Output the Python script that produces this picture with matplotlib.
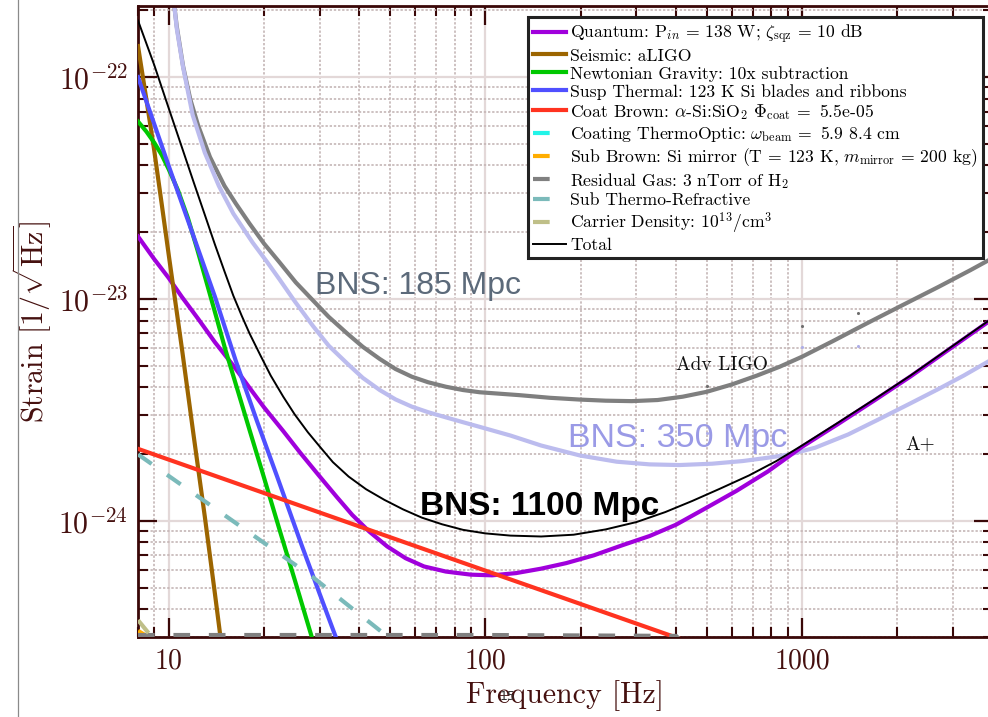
import numpy as np
import matplotlib
matplotlib.use("Agg")
import matplotlib.pyplot as plt
from matplotlib.ticker import FuncFormatter, FixedLocator, LogLocator, NullFormatter
from matplotlib.lines import Line2D

# ---------------- noise budget data: frequency [Hz], log10 strain [1/sqrt(Hz)] ----------------
quantum_f = [8, 9, 10, 11, 12.4, 14, 16, 18, 20, 23, 26, 30, 34, 38, 43, 49, 56, 64, 75, 90,
             105, 125, 150, 180, 220, 270, 330, 400, 500, 620, 780, 1000, 1300, 1700, 2200,
             3000, 4000]
quantum_lg = [-22.718, -22.82, -22.905, -22.99, -23.09, -23.195, -23.30, -23.40, -23.488,
              -23.595, -23.692, -23.80, -23.893, -23.973, -24.048, -24.115, -24.168, -24.205,
              -24.228, -24.242, -24.245, -24.235, -24.215, -24.19, -24.155, -24.11, -24.068,
              -24.017, -23.94, -23.865, -23.777, -23.666, -23.563, -23.455, -23.349, -23.214,
              -23.089]

seismic_f = [8, 8.5, 9, 9.5, 10, 11, 12, 13, 14, 14.5, 15.5]
seismic_lg = [-21.86, -22.10, -22.33, -22.57, -22.80, -23.22, -23.62, -23.98, -24.33, -24.50,
              -24.82]

newtonian_f = [8, 8.5, 9, 9.5, 10, 10.7, 11.5, 12.3, 13.2, 14.1, 15.1, 16.5, 18, 20, 22.5,
               25, 28.3, 30]
newtonian_lg = [-22.20, -22.245, -22.295, -22.35, -22.415, -22.51, -22.635, -22.775, -22.93,
                -23.075, -23.228, -23.41, -23.59, -23.805, -24.05, -24.265, -24.523, -24.64]

susp_f = [8, 10, 12, 14, 16.3, 19, 22, 26, 30, 33.7, 36]
susp_lg = [-22.0, -22.40, -22.72, -22.99, -23.28, -23.55, -23.80, -24.09, -24.33, -24.523,
           -24.64]

coat_f = [8, 400, 450]
coat_lg = [-23.675, -24.525, -24.55]

coat_to_f = []
coat_to_lg = []

sub_brown_f = [8, 9]
sub_brown_lg = [-24.495, -24.54]

gas_f = [8, 100, 400, 430]
gas_lg = [-24.514, -24.514, -24.518, -24.56]

sub_tr_f = [8, 28.5, 50, 55]
sub_tr_lg = [-23.70, -24.253, -24.53, -24.58]

carrier_f = [8, 9.2]
carrier_lg = [-24.447, -24.553]

total_f = [8, 9, 10, 11, 12, 13, 14, 15, 16, 17, 18, 19.5, 21, 23, 25, 27.5, 30, 33, 37, 42,
           48, 55, 63, 73, 85, 100, 120, 150, 190, 240, 300, 370, 450, 550, 680, 830, 1000,
           1300, 1700, 2200, 3000, 4000]
total_lg = [-21.745, -21.945, -22.14, -22.315, -22.475, -22.62, -22.755, -22.875, -22.985,
            -23.075, -23.155, -23.255, -23.345, -23.44, -23.52, -23.60, -23.665, -23.735,
            -23.80, -23.857, -23.905, -23.948, -23.985, -24.015, -24.04, -24.056, -24.066,
            -24.07, -24.062, -24.038, -24.005, -23.96, -23.91, -23.855, -23.795, -23.73,
            -23.66, -23.557, -23.45, -23.345, -23.21, -23.085]

aligo_f = [10.3, 10.6, 11.1, 11.7, 12.4, 13.5, 15, 16.3, 18, 20, 22.4, 25.2, 28.5, 32, 36.6,
           41, 46.4, 52, 58.6, 66, 75, 85, 96, 128, 160, 199, 240, 290, 350, 420, 500, 600,
           720, 850, 1000, 1250, 1600, 2060, 2700, 3400, 4000]
aligo_lg = [-21.62, -21.77, -21.95, -22.10, -22.22, -22.36, -22.49, -22.57, -22.66, -22.75,
            -22.835, -22.925, -23.005, -23.08, -23.155, -23.215, -23.27, -23.315, -23.35,
            -23.375, -23.395, -23.41, -23.42, -23.433, -23.445, -23.453, -23.458, -23.46,
            -23.455, -23.44, -23.418, -23.385, -23.345, -23.305, -23.26, -23.19, -23.11,
            -23.03, -22.945, -22.87, -22.815]

aplus_f = [10.2, 10.6, 11.1, 11.9, 13, 14.4, 16, 18.4, 20.5, 22.4, 25, 28.5, 32, 36.6, 41,
           46.4, 52, 58.6, 66, 75, 85, 96, 120, 150, 199, 260, 330, 410, 520, 650, 800, 913,
           1100, 1400, 1736, 2200, 2700, 3240, 4000]
aplus_lg = [-21.56, -21.78, -21.955, -22.17, -22.34, -22.49, -22.615, -22.745, -22.835,
            -22.912, -23.01, -23.12, -23.21, -23.29, -23.355, -23.41, -23.452, -23.485,
            -23.51, -23.533, -23.555, -23.576, -23.615, -23.66, -23.705, -23.733, -23.745,
            -23.748, -23.742, -23.73, -23.713, -23.70, -23.67, -23.61, -23.544, -23.47,
            -23.405, -23.345, -23.27]

aligo_pts_f = [500, 1000, 1500]
aligo_pts_lg = [-23.39, -23.12, -23.061]
aplus_pts_f = [500, 1000, 1500]
aplus_pts_lg = [-23.603, -23.214, -23.21]

legend_labels = [
    r'Quantum: $\mathrm{P}_{in}\,=\,138$ W; $\zeta_{\rm sqz}\,=\,10$ dB',
    'Seismic: aLIGO',
    'Newtonian Gravity: 10x subtraction',
    'Susp Thermal: 123 K Si blades and ribbons',
    r'Coat Brown: $\alpha$-Si:SiO$_2$ $\Phi_{\rm coat}\,=$ 5.5e-05',
    r'Coating ThermoOptic: $\omega_{\rm beam}\,=$ 5.9 8.4 cm',
    r'Sub Brown: Si mirror (T = 123 K, $m_{\rm mirror}\,=\,200$ kg)',
    r'Residual Gas: 3 nTorr of H$_2$',
    'Sub Thermo-Refractive',
    r'Carrier Density: $10^{13}/\mathrm{cm}^3$',
    'Total',
]


def asd(lg):
    return np.power(10.0, np.asarray(lg, dtype=float))


# ---------------- style ----------------
plt.rcParams.update({
    'font.family': 'serif',
    'font.serif': ['cmr10'],
    'mathtext.fontset': 'cm',
    'axes.unicode_minus': False,
    'axes.formatter.use_mathtext': True,
})

DARK = '#3a0808'
LABEL = '#45100f'

fig = plt.figure(figsize=(9.88, 7.17), dpi=100)
ax = fig.add_axes([0.1397, 0.1116, 0.8650, 0.8805])
ax.set_xscale('log')
ax.set_yscale('log')
ax.set_xlim(8, 4000)
ax.set_ylim(3e-25, 2.1e-22)

# grid
ax.set_axisbelow(True)
ax.grid(which='major', color='#e3d8d8', lw=1.6, ls='-')
ax.grid(which='minor', color='#c5b6b6', lw=1.2, ls=(0, (1.4, 1.1)))

# reference sensitivity curves
ax.plot(aligo_f, asd(aligo_lg), color='#7f7f7f', lw=3.0, zorder=2)
ax.plot(aplus_f, asd(aplus_lg), color='#bcbcee', lw=3.0, zorder=2.1)
ax.scatter(aligo_pts_f, asd(aligo_pts_lg), s=5, color='#6e6e6e', zorder=2.2, lw=0)
ax.scatter(aplus_pts_f, asd(aplus_pts_lg), s=5, color='#aeaee8', zorder=2.2, lw=0)

# noise terms
dash = (0, (4, 4.5))
lw = 3.0
ax.plot(quantum_f, asd(quantum_lg), color='#a000dc', lw=lw, label=legend_labels[0], zorder=3)
ax.plot(seismic_f, asd(seismic_lg), color='#9c6500', lw=lw, label=legend_labels[1], zorder=3)
ax.plot(newtonian_f, asd(newtonian_lg), color='#00c800', lw=lw, label=legend_labels[2], zorder=3)
ax.plot(susp_f, asd(susp_lg), color='#5050ff', lw=lw, label=legend_labels[3], zorder=3)
ax.plot(coat_f, asd(coat_lg), color='#ff3320', lw=lw, label=legend_labels[4], zorder=3)
ax.plot(coat_to_f, asd(coat_to_lg), color='#22f4e8', lw=lw, ls=dash, label=legend_labels[5], zorder=3)
ax.plot(sub_brown_f, asd(sub_brown_lg), color='#ffad00', lw=lw, ls=dash, label=legend_labels[6], zorder=3)
ax.plot(gas_f, asd(gas_lg), color='#808080', lw=lw, ls=dash, label=legend_labels[7], zorder=3)
ax.plot(sub_tr_f, asd(sub_tr_lg), color='#7bbaba', lw=lw, ls=dash, label=legend_labels[8], zorder=3)
ax.plot(carrier_f, asd(carrier_lg), color='#bfbf88', lw=lw, ls=dash, label=legend_labels[9], zorder=3)
ax.plot(total_f, asd(total_lg), color='black', lw=1.4, label=legend_labels[10], zorder=4)

# annotations
ax.text(28.9, 1.05e-23, 'BNS: 185 Mpc', family='Liberation Sans', fontsize=23,
        color='#5c6a7a', va='baseline', ha='left', zorder=5)
ax.text(183, 2.16e-24, 'BNS: 350 Mpc', family='Liberation Sans', fontsize=24.5,
        color='#9a9ae6', va='baseline', ha='left', zorder=5)
ax.text(62.1, 1.06e-24, 'BNS: 1100 Mpc', family='Liberation Sans', fontsize=24,
        fontweight='bold', color='black', va='baseline', ha='left', zorder=5)
ax.text(401, 5.06e-24, 'Adv LIGO', fontsize=14, color='#111111', va='center', ha='left', zorder=5)
ax.text(2117, 2.2e-24, 'A+', fontsize=14, color='#111111', va='center', ha='left', zorder=5)

# axes styling
for sp in ax.spines.values():
    sp.set_color(DARK)
    sp.set_linewidth(2.0)
ax.tick_params(which='both', direction='in', top=True, right=True, color=DARK,
               labelcolor=LABEL)
ax.tick_params(which='major', length=13.5, width=1.6)
ax.tick_params(which='minor', length=7.5, width=1.5)
ax.tick_params(axis='x', which='major', labelsize=20, pad=8)
ax.tick_params(axis='y', which='major', labelsize=21.5, pad=7)

ax.xaxis.set_major_locator(FixedLocator([10, 100, 1000]))
ax.xaxis.set_minor_locator(LogLocator(base=10, subs=np.arange(2, 10)))
ax.yaxis.set_major_locator(FixedLocator([1e-24, 1e-23, 1e-22]))
ax.yaxis.set_minor_locator(LogLocator(base=10, subs=np.arange(2, 10)))
ax.xaxis.set_major_formatter(FuncFormatter(lambda v, p: '%d' % round(v)))
ax.xaxis.set_minor_formatter(NullFormatter())
ax.yaxis.set_major_formatter(FuncFormatter(lambda v, p: r'$10^{%d}$' % round(np.log10(v))))
ax.yaxis.set_minor_formatter(NullFormatter())

ax.set_xlabel('Frequency [Hz]', fontsize=21.5, color=LABEL, labelpad=4)
ax.set_ylabel(r'Strain $[1/\sqrt{\mathrm{Hz}}]$', fontsize=21.5, color=LABEL, labelpad=3)

leg = ax.legend(loc='upper right', bbox_to_anchor=(983 / 988, 1 - 17 / 717),
                bbox_transform=fig.transFigure, borderaxespad=0, fontsize=12.7,
                frameon=True, fancybox=False, edgecolor='#222222', framealpha=1,
                borderpad=0.3, labelspacing=0.12, handlelength=1.85,
                handletextpad=0.25)
leg.get_frame().set_linewidth(2.2)
leg.set_zorder(10)

# page furniture around the plot
fig.add_artist(Line2D([18 / 988, 18 / 988], [0, 1], transform=fig.transFigure,
                      color='#8a8a8a', lw=0.9))
fig.text(508 / 988, 1 - 696 / 717, '15', family='DejaVu Sans', fontsize=9,
         color='#333333', ha='center', va='center', zorder=20)

fig.savefig('out.png', dpi=100)
